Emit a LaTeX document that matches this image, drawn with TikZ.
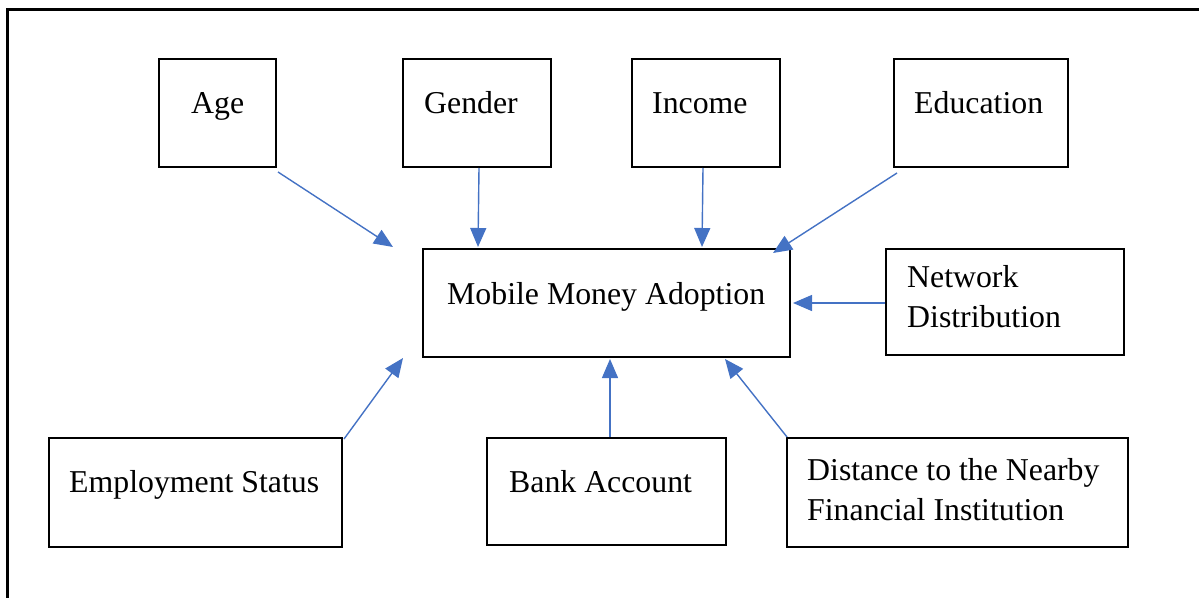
\documentclass[tikz,border=0pt]{standalone}
\usepackage{fontspec}
\setmainfont{Liberation Serif}
\usetikzlibrary{arrows.meta,calc}
\definecolor{linkblue}{RGB}{68,114,196}
\tikzset{
  box/.style={draw=black, line width=2pt, inner sep=0pt, anchor=north west},
  lbl/.style={anchor=base west, inner sep=0pt, font=\fontsize{31.8}{40}\selectfont},
  link/.style={draw=linkblue, line width=1.4pt, -{Triangle[length=19pt,width=16pt]}}
}
\newcommand{\boxat}[5]{% name, x1, y1, x2, y2
  \node[box, minimum width={(#4-#2)*1pt}, minimum height={(#5-#3)*1pt}] (#1) at (#2,#3) {};}
\begin{document}
\begin{tikzpicture}[x=1pt, y=-1pt]
  \useasboundingbox (0,0) rectangle (1199,597);
  % outer frame, running past the right and bottom edges
  \draw[line width=2.5pt] (7.5,640) -- (7.5,9.5) -- (1240,9.5);

  % factor boxes
  \boxat{age}{158}{58}{275}{166}
  \boxat{gender}{402}{58}{550}{166}
  \boxat{income}{631}{58}{779}{166}
  \boxat{edu}{893}{58}{1067}{166}
  \boxat{mma}{422}{248}{789}{356}
  \boxat{net}{885}{248}{1123}{354}
  \boxat{emp}{48}{437}{341}{546}
  \boxat{bank}{486}{437}{725}{544}
  \boxat{dist}{786}{437}{1127}{546}

  % labels
  \node[lbl] (agetxt) at (191,113) {Age};
  \node[lbl] (gendertxt) at (424,113) {Gender};
  \node[lbl] (incometxt) at (652,113) {Income};
  \node[lbl] (edutxt) at (914,113) {Education};
  \node[lbl] (mmatxt) at (447,304) {Mobile Money Adoption};
  \node[lbl] (nettxta) at (907,287) {Network};
  \node[lbl] (nettxtb) at (907,327) {Distribution};
  \node[lbl] (emptxt) at (69,492) {Employment Status};
  \node[lbl] (banktxt) at (509,492) {Bank Account};
  \node[lbl] (disttxta) at (807,480) {Distance to the Nearby};
  \node[lbl] (disttxtb) at (807,520) {Financial Institution};

  % connector end points
  \coordinate (a1) at ($(age.south east)+(1,4)$);
  \coordinate (a2) at ($(mma.north west)+(-29,-1)$);
  \coordinate (g1) at ($(gender.south)+(2,0)$);
  \coordinate (g2) at ($(mma.north west)+(56,-1)$);
  \coordinate (i1) at ($(income.south)+(-3,0)$);
  \coordinate (i2) at ($(mma.north west)+(280,-1)$);
  \coordinate (e1) at ($(edu.south west)+(4,5)$);
  \coordinate (e2) at ($(mma.north east)+(-18,5)$);
  \coordinate (n1) at ($(net.west)+(0,1)$);
  \coordinate (n2) at ($(mma.east)+(2,0)$);
  \coordinate (s1) at ($(emp.north east)+(1,2)$);
  \coordinate (s2) at ($(mma.south west)+(-19,0)$);
  \coordinate (b1) at ($(bank.north west)+(124,0)$);
  \coordinate (b2) at ($(mma.south west)+(188,1)$);
  \coordinate (d1) at ($(dist.north west)+(1,0)$);
  \coordinate (d2) at ($(mma.south east)+(-66,1)$);

  % influences on adoption
  \draw[link] (a1) -- (a2);
  \draw[link] (g1) -- (g2);
  \draw[link] (i1) -- (i2);
  \draw[link] (e1) -- (e2);
  \draw[link] (n1) -- (n2);
  \draw[link] (s1) -- (s2);
  \draw[link] (b1) -- (b2);
  \draw[link] (d1) -- (d2);
\end{tikzpicture}
\end{document}
